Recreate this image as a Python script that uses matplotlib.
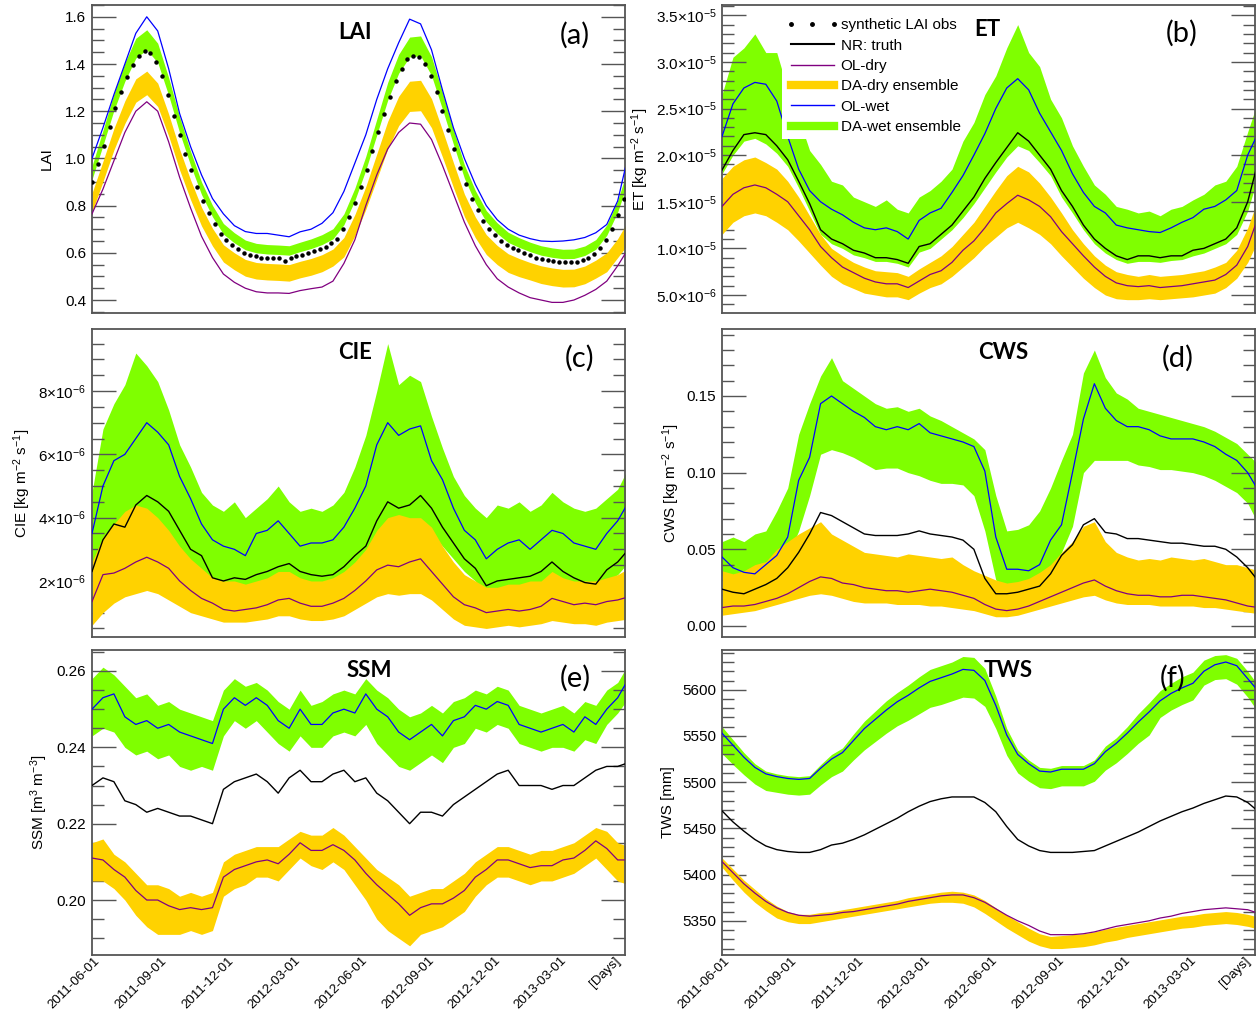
import numpy as np
import matplotlib
matplotlib.use("Agg")
import matplotlib.pyplot as plt
from matplotlib.lines import Line2D
from matplotlib.ticker import FixedLocator, MultipleLocator
from matplotlib.transforms import ScaledTranslation

plt.rcParams['font.family'] = ['Liberation Sans', 'DejaVu Sans']
plt.rcParams['mathtext.fontset'] = 'custom'
plt.rcParams['mathtext.rm'] = 'Liberation Sans'
plt.rcParams['mathtext.it'] = 'Liberation Sans:italic'
plt.rcParams['mathtext.bf'] = 'Liberation Sans:bold'
plt.rcParams['mathtext.default'] = 'regular'

# days since 2011-06-01, one value every 15 days
days = np.arange(0, 736, 15)
# synthetic LAI obs every 8 days
obs_days = np.arange(0, 729, 8)

date_ticks = [0, 92, 183, 274, 366, 458, 549, 639, 730]
date_labels = ['2011-06-01', '2011-09-01', '2011-12-01', '2012-03-01',
               '2012-06-01', '2012-09-01', '2012-12-01', '2013-03-01', '[Days]']

# ---------------- LAI ----------------
lai_obs = [0.900, 0.977, 1.054, 1.134, 1.212, 1.282, 1.345, 1.395, 1.435, 1.455,
           1.445, 1.410, 1.350, 1.270, 1.180, 1.100, 1.020, 0.950, 0.880, 0.820,
           0.770, 0.720, 0.680, 0.655, 0.635, 0.615, 0.600, 0.590, 0.585, 0.580,
           0.580, 0.580, 0.578, 0.567, 0.578, 0.585, 0.592, 0.600, 0.607, 0.615,
           0.625, 0.640, 0.660, 0.700, 0.750, 0.810, 0.880, 0.950, 1.030, 1.110,
           1.190, 1.260, 1.330, 1.380, 1.420, 1.435, 1.430, 1.400, 1.350, 1.280,
           1.200, 1.120, 1.040, 0.960, 0.890, 0.830, 0.780, 0.735, 0.700, 0.675,
           0.650, 0.635, 0.620, 0.610, 0.600, 0.590, 0.580, 0.575, 0.570, 0.565,
           0.562, 0.560, 0.560, 0.562, 0.570, 0.580, 0.595, 0.620, 0.655, 0.700,
           0.760, 0.830]
lai_ol_wet = [1.00, 1.13, 1.27, 1.40, 1.53, 1.60, 1.54, 1.38, 1.19, 1.05,
              0.93, 0.83, 0.765, 0.715, 0.69, 0.682, 0.682, 0.675, 0.668, 0.689,
              0.70, 0.725, 0.77, 0.86, 0.98, 1.10, 1.25, 1.38, 1.49, 1.59,
              1.57, 1.46, 1.29, 1.13, 1.00, 0.89, 0.80, 0.74, 0.70, 0.675,
              0.66, 0.65, 0.648, 0.65, 0.655, 0.665, 0.685, 0.72, 0.82, 1.02]
lai_ol_dry = [0.765, 0.87, 0.99, 1.11, 1.20, 1.24, 1.20, 1.07, 0.92, 0.79,
              0.67, 0.58, 0.51, 0.475, 0.45, 0.435, 0.43, 0.43, 0.428, 0.44,
              0.448, 0.455, 0.48, 0.555, 0.655, 0.80, 0.93, 1.04, 1.11, 1.15,
              1.145, 1.08, 0.97, 0.85, 0.73, 0.63, 0.55, 0.49, 0.455, 0.43,
              0.41, 0.40, 0.39, 0.39, 0.40, 0.42, 0.445, 0.48, 0.545, 0.62]
lai_wet_hi = [0.968, 1.119, 1.275, 1.405, 1.509, 1.545, 1.488, 1.342, 1.176, 1.03,
              0.90, 0.801, 0.724, 0.685, 0.654, 0.64, 0.635, 0.633, 0.63, 0.645,
              0.659, 0.677, 0.702, 0.765, 0.874, 1.009, 1.166, 1.322, 1.441, 1.514,
              1.519, 1.431, 1.28, 1.124, 0.973, 0.864, 0.779, 0.727, 0.687, 0.664,
              0.645, 0.63, 0.621, 0.615, 0.616, 0.629, 0.656, 0.718, 0.822, 0.968]
lai_wet_lo = [0.911, 1.055, 1.203, 1.327, 1.425, 1.46, 1.406, 1.267, 1.109, 0.971,
              0.847, 0.753, 0.679, 0.642, 0.613, 0.60, 0.595, 0.593, 0.59, 0.605,
              0.618, 0.635, 0.659, 0.719, 0.822, 0.951, 1.099, 1.247, 1.361, 1.43,
              1.435, 1.351, 1.208, 1.06, 0.916, 0.812, 0.731, 0.682, 0.644, 0.623,
              0.605, 0.59, 0.581, 0.575, 0.576, 0.589, 0.615, 0.674, 0.773, 0.911]
lai_dry_hi = [0.853, 0.988, 1.127, 1.244, 1.337, 1.37, 1.319, 1.188, 1.039, 0.909,
              0.793, 0.704, 0.634, 0.60, 0.572, 0.559, 0.555, 0.553, 0.55, 0.564,
              0.576, 0.592, 0.616, 0.665, 0.762, 0.881, 1.019, 1.157, 1.263, 1.327,
              1.331, 1.253, 1.12, 0.982, 0.849, 0.752, 0.677, 0.631, 0.596, 0.576,
              0.559, 0.545, 0.536, 0.53, 0.531, 0.544, 0.569, 0.60, 0.66, 0.74]
lai_dry_lo = [0.772, 0.902, 1.036, 1.148, 1.238, 1.27, 1.22, 1.095, 0.951, 0.825,
              0.714, 0.629, 0.561, 0.528, 0.501, 0.489, 0.485, 0.483, 0.48, 0.494,
              0.505, 0.52, 0.544, 0.583, 0.672, 0.784, 0.911, 1.04, 1.139, 1.199,
              1.202, 1.13, 1.006, 0.877, 0.754, 0.664, 0.593, 0.55, 0.517, 0.499,
              0.485, 0.47, 0.461, 0.455, 0.456, 0.469, 0.493, 0.52, 0.58, 0.64]

# ---------------- ET (x 1e-5 kg m-2 s-1) ----------------
et_truth = [1.84, 2.05, 2.22, 2.24, 2.22, 2.10, 1.95, 1.72, 1.48, 1.20,
            1.10, 1.05, 0.98, 0.95, 0.90, 0.90, 0.88, 0.84, 1.02, 1.05,
            1.15, 1.25, 1.40, 1.55, 1.75, 1.92, 2.08, 2.24, 2.15, 2.00,
            1.85, 1.62, 1.45, 1.25, 1.10, 1.00, 0.92, 0.88, 0.92, 0.92,
            0.90, 0.92, 0.92, 0.98, 1.00, 1.05, 1.10, 1.22, 1.50, 1.95]
et_ol_wet = [2.20, 2.55, 2.72, 2.78, 2.76, 2.58, 2.20, 1.85, 1.62, 1.50,
             1.42, 1.36, 1.28, 1.22, 1.20, 1.22, 1.18, 1.10, 1.30, 1.38,
             1.43, 1.60, 1.78, 2.00, 2.23, 2.50, 2.72, 2.82, 2.70, 2.45,
             2.25, 2.05, 1.80, 1.60, 1.45, 1.38, 1.25, 1.22, 1.20, 1.18,
             1.17, 1.22, 1.28, 1.33, 1.42, 1.45, 1.52, 1.62, 2.00, 2.25]
et_ol_dry = [1.45, 1.58, 1.65, 1.68, 1.65, 1.58, 1.50, 1.35, 1.20, 1.02,
             0.90, 0.80, 0.74, 0.68, 0.64, 0.62, 0.62, 0.58, 0.65, 0.72,
             0.76, 0.85, 0.98, 1.08, 1.22, 1.38, 1.48, 1.57, 1.52, 1.45,
             1.34, 1.18, 1.05, 0.92, 0.80, 0.70, 0.63, 0.60, 0.59, 0.60,
             0.58, 0.59, 0.60, 0.62, 0.64, 0.66, 0.72, 0.82, 1.02, 1.35]
et_wet_hi = [2.65, 3.05, 3.15, 3.30, 3.10, 3.10, 2.70, 2.40, 2.05, 1.90,
             1.72, 1.68, 1.55, 1.50, 1.45, 1.52, 1.42, 1.38, 1.55, 1.62,
             1.72, 1.85, 2.15, 2.35, 2.65, 2.85, 3.15, 3.40, 3.10, 2.95,
             2.60, 2.40, 2.10, 1.88, 1.68, 1.58, 1.45, 1.42, 1.38, 1.40,
             1.35, 1.42, 1.45, 1.52, 1.58, 1.68, 1.72, 1.88, 2.25, 2.60]
et_wet_lo = [1.80, 2.00, 2.15, 2.18, 2.12, 2.02, 1.88, 1.65, 1.40, 1.15,
             1.05, 1.00, 0.93, 0.90, 0.86, 0.86, 0.84, 0.80, 0.96, 1.00,
             1.10, 1.20, 1.33, 1.48, 1.65, 1.82, 1.98, 2.10, 2.05, 1.92,
             1.78, 1.55, 1.38, 1.20, 1.05, 0.95, 0.88, 0.84, 0.86, 0.86,
             0.85, 0.87, 0.88, 0.92, 0.95, 1.00, 1.05, 1.15, 1.40, 1.80]
et_dry_hi = [1.75, 1.88, 1.95, 1.98, 1.92, 1.85, 1.72, 1.55, 1.35, 1.15,
             1.00, 0.92, 0.85, 0.80, 0.76, 0.75, 0.74, 0.70, 0.78, 0.85,
             0.92, 1.02, 1.15, 1.28, 1.45, 1.62, 1.78, 1.88, 1.82, 1.70,
             1.55, 1.38, 1.20, 1.05, 0.92, 0.82, 0.75, 0.72, 0.70, 0.72,
             0.70, 0.71, 0.72, 0.74, 0.76, 0.80, 0.85, 0.98, 1.22, 1.55]
et_dry_lo = [1.15, 1.28, 1.35, 1.38, 1.35, 1.28, 1.20, 1.08, 0.95, 0.82,
             0.70, 0.62, 0.57, 0.52, 0.50, 0.48, 0.48, 0.45, 0.52, 0.58,
             0.62, 0.70, 0.80, 0.90, 1.02, 1.12, 1.22, 1.28, 1.22, 1.15,
             1.05, 0.92, 0.80, 0.68, 0.58, 0.50, 0.46, 0.45, 0.45, 0.46,
             0.45, 0.46, 0.47, 0.48, 0.50, 0.52, 0.58, 0.68, 0.85, 1.10]

# ---------------- CIE (x 1e-6 kg m-2 s-1) ----------------
cie_truth = [2.3, 3.3, 3.8, 3.7, 4.4, 4.7, 4.5, 4.2, 3.6, 3.0,
             2.8, 2.1, 2.0, 2.1, 2.05, 2.2, 2.3, 2.45, 2.55, 2.3,
             2.2, 2.15, 2.2, 2.45, 2.8, 3.1, 3.9, 4.5, 4.3, 4.4,
             4.7, 4.3, 3.7, 3.2, 2.7, 2.4, 1.85, 2.0, 2.05, 2.1,
             2.15, 2.3, 2.6, 2.3, 2.1, 1.95, 1.9, 2.35, 2.6, 3.0]
cie_ol_wet = [3.5, 5.0, 5.8, 6.0, 6.5, 7.0, 6.7, 6.3, 5.3, 4.6,
              3.8, 3.3, 3.1, 3.0, 2.8, 3.5, 3.6, 3.9, 3.5, 3.1,
              3.2, 3.2, 3.3, 3.7, 4.3, 5.0, 6.3, 7.0, 6.6, 6.8,
              6.9, 5.8, 5.2, 4.3, 3.6, 3.3, 2.7, 3.0, 3.2, 3.3,
              3.0, 3.3, 3.6, 3.5, 3.2, 3.1, 3.0, 3.5, 3.9, 4.5]
cie_ol_dry = [1.35, 2.2, 2.25, 2.4, 2.6, 2.75, 2.6, 2.4, 2.0, 1.7,
              1.45, 1.3, 1.1, 1.05, 1.1, 1.15, 1.25, 1.4, 1.45, 1.3,
              1.2, 1.2, 1.3, 1.45, 1.7, 2.0, 2.35, 2.5, 2.45, 2.6,
              2.7, 2.3, 1.9, 1.5, 1.25, 1.15, 1.0, 1.05, 1.1, 1.05,
              1.1, 1.2, 1.45, 1.35, 1.25, 1.3, 1.25, 1.35, 1.4, 1.5]
cie_wet_hi = [4.8, 6.8, 7.6, 8.2, 9.2, 8.8, 8.3, 7.4, 6.3, 5.6,
              4.8, 4.4, 4.2, 4.5, 4.0, 4.3, 4.6, 5.0, 4.5, 4.2,
              4.3, 4.2, 4.4, 4.8, 5.6, 6.6, 8.0, 9.5, 8.2, 8.5,
              8.3, 7.2, 6.2, 5.3, 4.7, 4.3, 4.0, 4.4, 4.3, 4.5,
              4.2, 4.4, 4.8, 4.5, 4.3, 4.2, 4.3, 4.6, 4.9, 5.6]
cie_wet_lo = [2.0, 2.8, 3.2, 3.2, 3.6, 3.8, 3.6, 3.4, 3.0, 2.6,
              2.3, 1.8, 1.7, 1.8, 1.7, 1.9, 2.0, 2.1, 2.2, 2.0,
              1.9, 1.85, 1.9, 2.1, 2.4, 2.7, 3.3, 3.7, 3.6, 3.6,
              3.8, 3.5, 3.1, 2.7, 2.3, 2.0, 1.6, 1.7, 1.75, 1.8,
              1.8, 1.95, 2.2, 1.95, 1.8, 1.65, 1.6, 2.0, 2.2, 2.6]
cie_dry_hi = [2.6, 3.4, 3.8, 4.2, 4.4, 4.3, 4.0, 3.6, 3.1, 2.7,
              2.4, 2.1, 2.0, 2.0, 1.9, 2.0, 2.1, 2.3, 2.3, 2.1,
              2.0, 2.0, 2.1, 2.3, 2.6, 3.0, 3.6, 4.0, 4.1, 4.0,
              4.0, 3.7, 3.1, 2.6, 2.2, 2.0, 1.8, 1.8, 1.9, 1.9,
              2.0, 2.0, 2.3, 2.1, 2.0, 2.0, 2.0, 2.1, 2.2, 2.4]
cie_dry_lo = [0.6, 1.0, 1.3, 1.5, 1.6, 1.7, 1.6, 1.4, 1.2, 1.0,
              0.9, 0.8, 0.7, 0.7, 0.7, 0.75, 0.8, 0.9, 0.9, 0.8,
              0.75, 0.75, 0.8, 0.9, 1.1, 1.3, 1.5, 1.6, 1.55, 1.6,
              1.6, 1.4, 1.1, 0.8, 0.6, 0.55, 0.5, 0.55, 0.6, 0.55,
              0.6, 0.65, 0.75, 0.7, 0.65, 0.65, 0.6, 0.7, 0.75, 0.8]

# ---------------- CWS ----------------
cws_truth = [0.024, 0.022, 0.021, 0.024, 0.027, 0.031, 0.038, 0.048, 0.060, 0.074,
             0.072, 0.068, 0.064, 0.060, 0.059, 0.059, 0.059, 0.060, 0.062, 0.060,
             0.059, 0.058, 0.056, 0.050, 0.031, 0.021, 0.021, 0.022, 0.024, 0.026,
             0.034, 0.046, 0.053, 0.066, 0.070, 0.061, 0.060, 0.057, 0.057, 0.056,
             0.055, 0.054, 0.054, 0.053, 0.052, 0.052, 0.050, 0.045, 0.038, 0.029]
cws_ol_wet = [0.045, 0.038, 0.035, 0.034, 0.040, 0.046, 0.058, 0.095, 0.110, 0.145,
              0.150, 0.145, 0.140, 0.136, 0.130, 0.128, 0.130, 0.128, 0.132, 0.126,
              0.124, 0.122, 0.120, 0.117, 0.101, 0.058, 0.037, 0.037, 0.036, 0.040,
              0.056, 0.066, 0.100, 0.135, 0.158, 0.142, 0.134, 0.130, 0.130, 0.128,
              0.124, 0.122, 0.122, 0.122, 0.120, 0.117, 0.112, 0.108, 0.100, 0.088]
cws_ol_dry = [0.012, 0.013, 0.013, 0.014, 0.016, 0.018, 0.021, 0.025, 0.029, 0.032,
              0.031, 0.028, 0.027, 0.025, 0.024, 0.023, 0.023, 0.022, 0.023, 0.024,
              0.023, 0.022, 0.020, 0.018, 0.014, 0.011, 0.010, 0.011, 0.013, 0.016,
              0.019, 0.022, 0.025, 0.028, 0.030, 0.026, 0.023, 0.021, 0.020, 0.020,
              0.019, 0.019, 0.020, 0.020, 0.019, 0.018, 0.017, 0.015, 0.013, 0.012]
cws_wet_hi = [0.055, 0.058, 0.055, 0.060, 0.062, 0.075, 0.090, 0.125, 0.145, 0.163,
              0.175, 0.160, 0.155, 0.150, 0.145, 0.142, 0.143, 0.140, 0.142, 0.137,
              0.134, 0.130, 0.126, 0.122, 0.115, 0.085, 0.062, 0.063, 0.066, 0.075,
              0.090, 0.108, 0.125, 0.165, 0.180, 0.162, 0.152, 0.148, 0.142, 0.140,
              0.138, 0.136, 0.134, 0.132, 0.130, 0.127, 0.123, 0.119, 0.112, 0.105]
cws_wet_lo = [0.033, 0.028, 0.026, 0.027, 0.030, 0.035, 0.045, 0.062, 0.085, 0.112,
              0.115, 0.113, 0.110, 0.106, 0.102, 0.103, 0.103, 0.100, 0.098, 0.095,
              0.093, 0.093, 0.092, 0.085, 0.062, 0.030, 0.025, 0.025, 0.027, 0.030,
              0.038, 0.048, 0.065, 0.100, 0.108, 0.108, 0.108, 0.108, 0.105, 0.104,
              0.102, 0.102, 0.101, 0.100, 0.098, 0.095, 0.091, 0.087, 0.080, 0.066]
cws_dry_hi = [0.036, 0.034, 0.036, 0.040, 0.042, 0.050, 0.055, 0.060, 0.064, 0.068,
              0.060, 0.056, 0.052, 0.048, 0.047, 0.046, 0.045, 0.047, 0.046, 0.045,
              0.044, 0.045, 0.040, 0.036, 0.033, 0.030, 0.028, 0.029, 0.031, 0.035,
              0.040, 0.048, 0.055, 0.065, 0.068, 0.055, 0.048, 0.045, 0.043, 0.044,
              0.043, 0.045, 0.044, 0.043, 0.044, 0.042, 0.040, 0.040, 0.038, 0.036]
cws_dry_lo = [0.007, 0.008, 0.009, 0.010, 0.012, 0.014, 0.016, 0.018, 0.020, 0.021,
              0.020, 0.018, 0.016, 0.015, 0.015, 0.015, 0.014, 0.014, 0.014, 0.013,
              0.013, 0.012, 0.011, 0.010, 0.008, 0.006, 0.006, 0.007, 0.009, 0.011,
              0.013, 0.015, 0.017, 0.019, 0.020, 0.017, 0.015, 0.014, 0.014, 0.014,
              0.013, 0.013, 0.013, 0.013, 0.012, 0.012, 0.011, 0.010, 0.009, 0.008]

# ---------------- SSM ----------------
ssm_truth = [0.230, 0.232, 0.231, 0.226, 0.225, 0.223, 0.224, 0.223, 0.222, 0.222,
             0.221, 0.220, 0.229, 0.231, 0.232, 0.233, 0.231, 0.228, 0.232, 0.234,
             0.231, 0.231, 0.233, 0.234, 0.231, 0.232, 0.228, 0.226, 0.223, 0.220,
             0.223, 0.223, 0.222, 0.225, 0.227, 0.229, 0.231, 0.233, 0.234, 0.230,
             0.230, 0.230, 0.229, 0.230, 0.230, 0.232, 0.234, 0.235, 0.235, 0.236]
ssm_ol_wet = [0.250, 0.253, 0.254, 0.248, 0.246, 0.247, 0.245, 0.246, 0.244, 0.243,
              0.242, 0.241, 0.250, 0.253, 0.251, 0.253, 0.251, 0.247, 0.245, 0.250,
              0.246, 0.246, 0.249, 0.250, 0.249, 0.254, 0.250, 0.248, 0.244, 0.242,
              0.244, 0.246, 0.243, 0.247, 0.248, 0.251, 0.250, 0.252, 0.251, 0.246,
              0.245, 0.244, 0.245, 0.246, 0.244, 0.248, 0.246, 0.250, 0.253, 0.258]
ssm_ol_dry = [0.211, 0.2105, 0.208, 0.206, 0.2025, 0.200, 0.200, 0.1985, 0.1975, 0.198,
              0.1975, 0.198, 0.206, 0.208, 0.209, 0.210, 0.2105, 0.2095, 0.212, 0.215,
              0.213, 0.213, 0.2145, 0.213, 0.2105, 0.207, 0.204, 0.2015, 0.199, 0.196,
              0.198, 0.199, 0.199, 0.2005, 0.2025, 0.206, 0.208, 0.2105, 0.2105, 0.2095,
              0.2085, 0.209, 0.209, 0.2105, 0.211, 0.213, 0.2155, 0.2135, 0.2105, 0.2105]
ssm_wet_hi = [0.258, 0.261, 0.259, 0.256, 0.253, 0.254, 0.251, 0.252, 0.250, 0.249,
              0.248, 0.247, 0.255, 0.258, 0.256, 0.257, 0.255, 0.252, 0.250, 0.255,
              0.251, 0.252, 0.254, 0.255, 0.254, 0.258, 0.255, 0.253, 0.250, 0.248,
              0.249, 0.251, 0.249, 0.252, 0.253, 0.255, 0.254, 0.256, 0.255, 0.251,
              0.250, 0.249, 0.250, 0.251, 0.249, 0.252, 0.251, 0.255, 0.257, 0.262]
ssm_wet_lo = [0.243, 0.245, 0.244, 0.240, 0.238, 0.239, 0.237, 0.238, 0.235, 0.234,
              0.235, 0.234, 0.243, 0.247, 0.245, 0.247, 0.244, 0.241, 0.239, 0.243,
              0.240, 0.240, 0.243, 0.244, 0.243, 0.246, 0.241, 0.238, 0.235, 0.234,
              0.236, 0.238, 0.236, 0.240, 0.241, 0.245, 0.244, 0.246, 0.245, 0.241,
              0.240, 0.239, 0.240, 0.240, 0.239, 0.242, 0.241, 0.246, 0.249, 0.253]
ssm_dry_hi = [0.215, 0.216, 0.212, 0.210, 0.207, 0.204, 0.204, 0.203, 0.201, 0.202,
              0.201, 0.202, 0.210, 0.212, 0.213, 0.214, 0.214, 0.214, 0.216, 0.218,
              0.217, 0.217, 0.219, 0.217, 0.214, 0.211, 0.208, 0.206, 0.204, 0.201,
              0.202, 0.203, 0.203, 0.205, 0.207, 0.210, 0.212, 0.214, 0.214, 0.213,
              0.212, 0.213, 0.213, 0.214, 0.215, 0.217, 0.219, 0.218, 0.215, 0.214]
ssm_dry_lo = [0.205, 0.205, 0.203, 0.200, 0.196, 0.193, 0.191, 0.191, 0.191, 0.192,
              0.191, 0.192, 0.201, 0.203, 0.204, 0.206, 0.206, 0.205, 0.208, 0.211,
              0.209, 0.208, 0.210, 0.208, 0.204, 0.200, 0.195, 0.192, 0.190, 0.188,
              0.191, 0.192, 0.193, 0.195, 0.197, 0.201, 0.204, 0.206, 0.206, 0.205,
              0.204, 0.205, 0.205, 0.206, 0.207, 0.209, 0.211, 0.208, 0.205, 0.204]

# ---------------- TWS (mm) ----------------
tws_truth = [5469, 5457, 5447, 5438, 5431, 5427, 5425, 5424, 5424, 5427,
             5432, 5434, 5438, 5443, 5449, 5455, 5461, 5468, 5474, 5479,
             5482, 5484, 5484, 5484, 5478, 5468, 5452, 5438, 5431, 5426,
             5424, 5424, 5424, 5425, 5426, 5431, 5436, 5441, 5446, 5452,
             5458, 5463, 5468, 5472, 5477, 5481, 5485, 5484, 5478, 5468]
tws_ol_wet = [5553, 5540, 5527, 5516, 5509, 5506, 5504, 5503, 5504, 5515,
              5525, 5532, 5545, 5558, 5568, 5578, 5587, 5594, 5602, 5609,
              5613, 5617, 5622, 5621, 5610, 5583, 5551, 5530, 5520, 5512,
              5511, 5514, 5514, 5514, 5520, 5533, 5542, 5553, 5565, 5576,
              5588, 5596, 5602, 5607, 5620, 5627, 5630, 5626, 5612, 5598]
tws_ol_dry = [5414, 5402, 5390, 5380, 5371, 5364, 5359, 5356, 5355, 5356,
              5357, 5359, 5360, 5362, 5364, 5366, 5368, 5371, 5373, 5375,
              5377, 5378, 5378, 5375, 5370, 5363, 5356, 5350, 5345, 5339,
              5335, 5335, 5335, 5336, 5338, 5341, 5344, 5346, 5348, 5350,
              5353, 5355, 5358, 5360, 5362, 5363, 5364, 5363, 5362, 5358]
tws_wet_hi = [5560, 5546, 5532, 5520, 5512, 5509, 5507, 5506, 5507, 5519,
              5530, 5537, 5552, 5566, 5577, 5588, 5597, 5605, 5614, 5622,
              5626, 5630, 5636, 5635, 5623, 5593, 5558, 5535, 5524, 5516,
              5515, 5518, 5518, 5518, 5524, 5539, 5548, 5560, 5574, 5586,
              5599, 5607, 5614, 5619, 5632, 5637, 5638, 5634, 5620, 5604]
tws_wet_lo = [5531, 5519, 5508, 5498, 5491, 5489, 5487, 5486, 5487, 5497,
              5506, 5512, 5524, 5535, 5544, 5553, 5561, 5567, 5574, 5581,
              5584, 5588, 5592, 5591, 5582, 5558, 5529, 5510, 5501, 5494,
              5493, 5496, 5496, 5496, 5501, 5513, 5521, 5531, 5542, 5551,
              5570, 5578, 5584, 5589, 5605, 5611, 5612, 5606, 5592, 5575]
tws_dry_hi = [5418, 5406, 5394, 5384, 5374, 5366, 5360, 5357, 5357, 5359,
              5360, 5362, 5364, 5366, 5368, 5370, 5372, 5375, 5377, 5379,
              5381, 5382, 5381, 5378, 5372, 5364, 5356, 5349, 5342, 5336,
              5333, 5334, 5335, 5336, 5338, 5341, 5343, 5345, 5347, 5349,
              5351, 5353, 5355, 5356, 5358, 5359, 5360, 5359, 5357, 5354]
tws_dry_lo = [5408, 5394, 5381, 5370, 5361, 5353, 5349, 5347, 5347, 5349,
              5351, 5353, 5355, 5357, 5359, 5361, 5363, 5365, 5367, 5369,
              5370, 5370, 5369, 5365, 5358, 5350, 5342, 5335, 5328, 5323,
              5320, 5320, 5321, 5322, 5324, 5327, 5329, 5332, 5334, 5336,
              5338, 5340, 5342, 5343, 5345, 5346, 5347, 5346, 5344, 5341]

GREEN = '#7fff00'
GOLD = '#ffd200'
BLUE = '#0000ff'
PURPLE = '#800080'
AXC = '#555555'

fig = plt.figure(figsize=(12.57, 10.14), dpi=100)
W, H = 1257.0, 1014.0


def make_ax(left, top, right, bottom):
    return fig.add_axes([left / W, 1 - bottom / H, (right - left) / W, (bottom - top) / H])


ax_a = make_ax(92, 5, 625, 313)
ax_b = make_ax(722, 5, 1255, 313)
ax_c = make_ax(92, 329, 625, 637)
ax_d = make_ax(722, 329, 1255, 637)
ax_e = make_ax(92, 650, 625, 955)
ax_f = make_ax(722, 650, 1255, 955)


def draw(ax, truth, ol_dry, dry_lo, dry_hi, ol_wet, wet_lo, wet_hi, scale=1.0):
    s = scale
    ax.fill_between(days, np.array(wet_lo) * s, np.array(wet_hi) * s, color=GREEN, lw=0, zorder=1)
    ax.fill_between(days, np.array(dry_lo) * s, np.array(dry_hi) * s, color=GOLD, lw=0, zorder=2)
    ax.plot(days, np.array(ol_dry) * s, color=PURPLE, lw=0.9, zorder=3)
    ax.plot(days, np.array(ol_wet) * s, color=BLUE, lw=0.9, zorder=3)
    if truth is not None:
        ax.plot(days, np.array(truth) * s, color='black', lw=1.0, zorder=4)


def style(ax, ylim, major, minor, labels, ylabel, lab_x, title, tx, ty, letter, lx, ly, show_dates):
    ax.set_xlim(0, 730)
    ax.set_ylim(*ylim)
    ax.yaxis.set_major_locator(FixedLocator(major))
    ax.set_yticklabels(labels)
    ax.yaxis.set_minor_locator(MultipleLocator(minor))
    ax.tick_params(axis='y', which='major', direction='in', length=17, width=1.0,
                   color=AXC, left=True, right=True, labelsize=11, pad=4)
    ax.tick_params(axis='y', which='minor', direction='in', length=8.5, width=1.0,
                   color=AXC, left=True, right=True)
    ax.set_xticks(date_ticks)
    ax.tick_params(axis='x', length=0, labelsize=9.5, pad=2)
    if show_dates:
        ax.set_xticklabels(date_labels)
        labs = ax.get_xticklabels()
        for k, lab in enumerate(labs):
            lab.set_rotation(45)
            lab.set_ha('right')
            lab.set_va('center')
            lab.set_rotation_mode('anchor')
            dx = 6 if k < len(labs) - 1 else -7
            lab.set_transform(lab.get_transform() +
                              ScaledTranslation(dx / 100.0, -1 / 100.0, fig.dpi_scale_trans))
    else:
        ax.set_xticklabels([])
    for sp in ax.spines.values():
        sp.set_color(AXC)
        sp.set_linewidth(1.3)
    ax.set_ylabel(ylabel, fontsize=11, va='center')
    ax.yaxis.set_label_coords(lab_x, 0.5)
    ax.text(tx, ty, title, transform=ax.transAxes, ha='center', va='center',
            fontsize=16, fontweight='bold', family=['Lato', 'DejaVu Sans'], zorder=10)
    ax.text(lx, ly, letter, transform=ax.transAxes, ha='center', va='center',
            fontsize=21, family=['Lato', 'DejaVu Sans'], zorder=10)


# (a) LAI
draw(ax_a, None, lai_ol_dry, lai_dry_lo, lai_dry_hi, lai_ol_wet, lai_wet_lo, lai_wet_hi)
ax_a.plot(obs_days, lai_obs, linestyle='none', marker='o', markersize=2.2, color='black', zorder=5)
style(ax_a, (0.345, 1.65), [0.4, 0.6, 0.8, 1.0, 1.2, 1.4, 1.6], 0.05,
      ['0.4', '0.6', '0.8', '1.0', '1.2', '1.4', '1.6'], 'LAI', -0.084,
      'LAI', 0.493, 0.912, '(a)', 0.906, 0.903, False)

# (b) ET
draw(ax_b, et_truth, et_ol_dry, et_dry_lo, et_dry_hi, et_ol_wet, et_wet_lo, et_wet_hi, 1e-5)
et_major = [5e-6, 1e-5, 1.5e-5, 2e-5, 2.5e-5, 3e-5, 3.5e-5]
et_labels = ['5.0×10$^{-6}$', '1.0×10$^{-5}$', '1.5×10$^{-5}$', '2.0×10$^{-5}$',
             '2.5×10$^{-5}$', '3.0×10$^{-5}$', '3.5×10$^{-5}$']
style(ax_b, (3.07e-6, 3.61e-5), et_major, 1e-6, et_labels,
      'ET [kg m$^{-2}$ s$^{-1}$]', -0.154,
      'ET', 0.497, 0.919, '(b)', 0.862, 0.909, False)

# (c) CIE
draw(ax_c, cie_truth, cie_ol_dry, cie_dry_lo, cie_dry_hi, cie_ol_wet, cie_wet_lo, cie_wet_hi, 1e-6)
style(ax_c, (2.3e-7, 9.96e-6), [2e-6, 4e-6, 6e-6, 8e-6], 5e-7,
      ['2×10$^{-6}$', '4×10$^{-6}$', '6×10$^{-6}$', '8×10$^{-6}$'],
      'CIE [kg m$^{-2}$ s$^{-1}$]', -0.131,
      'CIE', 0.493, 0.925, '(c)', 0.914, 0.906, False)

# (d) CWS
draw(ax_d, cws_truth, cws_ol_dry, cws_dry_lo, cws_dry_hi, cws_ol_wet, cws_wet_lo, cws_wet_hi)
style(ax_d, (-0.0072, 0.1937), [0.0, 0.05, 0.10, 0.15], 0.01,
      ['0.00', '0.05', '0.10', '0.15'],
      'CWS [kg m$^{-2}$ s$^{-1}$]', -0.096,
      'CWS', 0.527, 0.925, '(d)', 0.856, 0.906, False)

# (e) SSM
draw(ax_e, ssm_truth, ssm_ol_dry, ssm_dry_lo, ssm_dry_hi, ssm_ol_wet, ssm_wet_lo, ssm_wet_hi)
style(ax_e, (0.1856, 0.2655), [0.20, 0.22, 0.24, 0.26], 0.005,
      ['0.20', '0.22', '0.24', '0.26'],
      'SSM [m$^{3}$ m$^{-3}$]', -0.099,
      'SSM', 0.52, 0.934, '(e)', 0.906, 0.908, True)

# (f) TWS
draw(ax_f, tws_truth, tws_ol_dry, tws_dry_lo, tws_dry_hi, tws_ol_wet, tws_wet_lo, tws_wet_hi)
style(ax_f, (5313, 5643), [5350, 5400, 5450, 5500, 5550, 5600], 10,
      ['5350', '5400', '5450', '5500', '5550', '5600'],
      'TWS [mm]', -0.101,
      'TWS', 0.537, 0.934, '(f)', 0.845, 0.908, True)

# legend in (b)
handles = [
    Line2D([], [], color='black', marker='o', markersize=2.5, linestyle='none'),
    Line2D([], [], color='black', lw=1.5),
    Line2D([], [], color=PURPLE, lw=1.0),
    Line2D([], [], color=GOLD, lw=6),
    Line2D([], [], color=BLUE, lw=1.0),
    Line2D([], [], color=GREEN, lw=6),
]
names = ['synthetic LAI obs', 'NR: truth', 'OL-dry', 'DA-dry ensemble', 'OL-wet', 'DA-wet ensemble']
leg = ax_b.legend(handles, names, loc='upper left', bbox_to_anchor=(0.098, 0.997),
                  fontsize=11, numpoints=3, handlelength=3.4, handletextpad=0.15,
                  labelspacing=0.42, borderpad=0.3, frameon=True, fancybox=False,
                  facecolor='white', edgecolor='none', framealpha=1.0)
leg.set_zorder(20)

fig.savefig('out.png', dpi=100, facecolor='white')
